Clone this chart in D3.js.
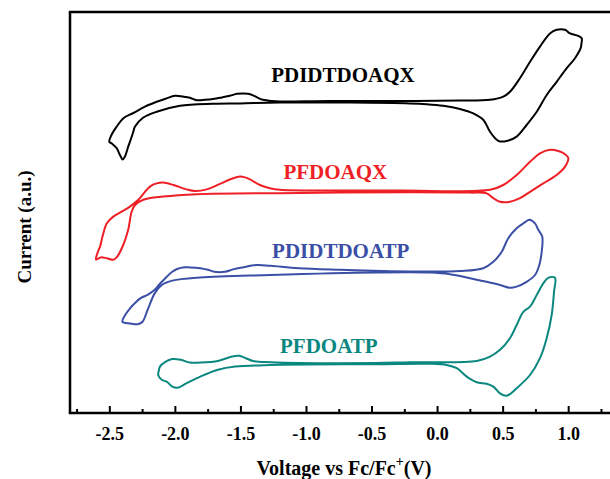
<!DOCTYPE html>
<html>
<head>
<meta charset="utf-8">
<script src="https://cdn.jsdelivr.net/npm/d3@7"></script>
<style>
  html, body { margin: 0; padding: 0; background: #fff; }
  svg { display: block; font-family: "Liberation Serif", "Times New Roman", serif; font-weight: bold; }
</style>
</head>
<body>
<svg id="chart" width="610" height="479"></svg>
<script>
// Cyclic voltammograms, closed loops as [potential (V vs Fc/Fc+), current (a.u., offset per trace)]
const pdidtdoaqx = [[-2.500,67.8],[-2.487,69.3],[-2.444,71.6],[-2.388,73.8],[-2.317,75.0],[-2.228,76.6],[-2.139,77.8],[-2.068,78.6],[-1.999,79.3],[-1.938,79.1],[-1.885,78.8],[-1.834,78.2],[-1.770,78.3],[-1.709,78.5],[-1.641,78.9],[-1.580,79.3],[-1.526,79.8],[-1.481,79.9],[-1.442,79.8],[-1.404,79.4],[-1.366,78.8],[-1.328,78.3],[-1.259,78.0],[-1.198,77.9],[-0.817,78.0],[-0.283,78.0],[0.175,78.1],[0.404,78.3],[0.505,79.1],[0.556,80.3],[0.632,83.7],[0.709,87.8],[0.785,91.6],[0.861,94.9],[0.912,95.8],[0.976,95.8],[1.014,94.9],[1.077,94.3],[1.103,93.7],[1.101,92.3],[1.095,91.2],[1.052,88.7],[0.989,86.2],[0.912,82.8],[0.836,79.5],[0.760,75.3],[0.683,72.0],[0.607,69.1],[0.531,68.0],[0.480,67.9],[0.455,68.3],[0.404,70.3],[0.352,73.3],[0.276,74.9],[0.175,76.0],[0.047,76.8],[-0.079,77.2],[-0.207,77.4],[-0.664,77.6],[-1.198,77.6],[-1.503,77.4],[-1.709,77.3],[-1.961,76.8],[-2.139,75.3],[-2.243,73.8],[-2.304,71.6],[-2.320,70.0],[-2.343,67.8],[-2.356,66.6],[-2.381,64.1],[-2.398,63.4],[-2.419,64.5],[-2.444,66.2],[-2.482,67.4]];

const pfdoaqx = [[-2.602,38.4],[-2.587,40.3],[-2.571,41.6],[-2.549,44.5],[-2.520,47.4],[-2.470,49.1],[-2.404,50.4],[-2.343,51.6],[-2.279,53.3],[-2.215,55.8],[-2.182,56.8],[-2.139,57.4],[-2.089,57.6],[-2.012,57.0],[-1.910,55.9],[-1.847,55.5],[-1.757,55.9],[-1.656,57.3],[-1.555,58.7],[-1.503,59.1],[-1.465,58.9],[-1.427,58.4],[-1.351,57.0],[-1.275,56.2],[-1.198,55.8],[-0.817,55.6],[-0.283,55.6],[0.404,55.8],[0.505,57.0],[0.607,59.5],[0.709,62.8],[0.785,64.9],[0.861,65.8],[0.925,65.5],[0.976,64.7],[1.001,63.7],[0.976,61.6],[0.912,59.5],[0.810,57.4],[0.709,55.3],[0.632,53.7],[0.556,52.8],[0.480,52.8],[0.429,53.7],[0.378,54.9],[0.251,55.1],[-0.207,55.2],[-1.046,55.0],[-1.834,54.7],[-2.089,54.1],[-2.241,53.3],[-2.304,52.0],[-2.330,50.3],[-2.356,45.8],[-2.394,42.0],[-2.444,38.9],[-2.470,38.3],[-2.520,38.7],[-2.566,38.9]];

const pdidtdoatp = [[-2.400,22.8],[-2.373,24.8],[-2.341,26.2],[-2.304,27.5],[-2.261,28.7],[-2.205,29.6],[-2.154,30.8],[-2.114,32.3],[-2.073,33.7],[-2.020,35.3],[-1.984,36.0],[-1.940,36.4],[-1.885,36.4],[-1.806,36.2],[-1.748,35.8],[-1.699,35.3],[-1.619,35.3],[-1.557,35.9],[-1.484,36.4],[-1.378,37.0],[-1.271,36.8],[-1.056,36.2],[-0.735,35.8],[-0.414,35.5],[-0.207,35.4],[0.175,35.5],[0.352,36.2],[0.429,37.8],[0.493,40.3],[0.543,43.7],[0.607,46.2],[0.671,47.7],[0.703,48.3],[0.747,47.4],[0.772,45.8],[0.802,44.1],[0.798,40.3],[0.780,37.0],[0.747,34.5],[0.683,32.8],[0.607,31.6],[0.556,31.3],[0.480,32.0],[0.378,32.8],[0.251,33.7],[0.098,34.7],[-0.054,35.1],[-0.468,35.1],[-1.271,34.5],[-1.806,33.9],[-2.020,33.1],[-2.100,32.0],[-2.154,29.9],[-2.208,25.8],[-2.247,22.8],[-2.282,22.2],[-2.341,22.4]];

const pfdoatp = [[-2.127,9.5],[-2.121,10.8],[-2.114,11.6],[-2.073,12.8],[-2.020,13.5],[-1.954,13.3],[-1.886,12.6],[-1.806,12.6],[-1.672,13.0],[-1.565,14.1],[-1.511,14.3],[-1.458,13.7],[-1.404,13.0],[-1.271,12.7],[-0.468,12.5],[-0.207,12.7],[0.302,13.0],[0.404,14.1],[0.480,15.8],[0.556,18.7],[0.607,22.0],[0.658,25.3],[0.709,26.6],[0.760,29.5],[0.810,32.4],[0.848,33.8],[0.899,33.8],[0.892,30.3],[0.874,24.5],[0.836,18.7],[0.785,13.7],[0.709,9.5],[0.607,6.2],[0.531,4.3],[0.480,4.9],[0.429,6.6],[0.378,7.3],[0.302,7.7],[0.226,9.1],[0.150,11.2],[0.073,12.0],[-0.054,12.3],[-0.468,12.2],[-1.271,12.0],[-1.539,11.6],[-1.672,10.8],[-1.806,9.1],[-1.913,7.4],[-1.980,6.3],[-2.020,6.6],[-2.060,7.8],[-2.100,8.3]];

const seriesNames = ["PDIDTDOAQX", "PFDOAQX", "PDIDTDOATP", "PFDOATP"];
const seriesData = [pdidtdoaqx, pfdoaqx, pdidtdoatp, pfdoatp];
const majorTicks = [-2.5, -2.0, -1.5, -1.0, -0.5, 0.0, 0.5, 1.0];
const minorTicks = [-2.75, -2.25, -1.75, -1.25, -0.75, -0.25, 0.25, 0.75, 1.25];

// styling and layout
const colors = ["#000000", "#ee1f25", "#3b4fa6", "#0a877f"];
const labelAnchor = [[-0.718, 82.7], [-0.776, 58.4], [-0.735, 38.7], [-0.826, 15.1]];

const svg = d3.select("#chart");
const plotLeft = 70, plotTop = 12, plotBottom = 413;

const x = d3.scaleLinear().domain([-2.8, 1.35]).range([plotLeft, plotLeft + 4.15 * 131.1]);
const y = d3.scaleLinear().domain([0, 100.25]).range([plotBottom, plotTop]);

// curves
const line = d3.line()
  .x(d => x(d[0]))
  .y(d => y(d[1]))
  .curve(d3.curveCatmullRomClosed.alpha(0.5));

svg.append("g")
  .selectAll("path")
  .data(seriesData)
  .join("path")
  .attr("d", line)
  .attr("fill", "none")
  .attr("stroke", (d, i) => colors[i])
  .attr("stroke-width", 2)
  .attr("stroke-linejoin", "round");

// series labels
svg.append("g")
  .selectAll("text")
  .data(seriesNames)
  .join("text")
  .attr("x", (d, i) => x(labelAnchor[i][0]))
  .attr("y", (d, i) => y(labelAnchor[i][1]))
  .attr("text-anchor", "middle")
  .attr("font-size", 21)
  .attr("fill", (d, i) => colors[i])
  .text(d => d);

// frame: left and top edges
svg.append("line")
  .attr("x1", plotLeft).attr("x2", plotLeft)
  .attr("y1", plotTop).attr("y2", plotBottom)
  .attr("stroke", "#000").attr("stroke-width", 2.5);
svg.append("line")
  .attr("x1", plotLeft - 1.25).attr("x2", 612)
  .attr("y1", plotTop).attr("y2", plotTop)
  .attr("stroke", "#000").attr("stroke-width", 2.5);

// bottom axis with inward ticks
const xAxis = d3.axisBottom(x)
  .tickValues(majorTicks)
  .tickSize(-7)
  .tickSizeOuter(0)
  .tickPadding(14)
  .tickFormat(d => d.toFixed(1));

const gx = svg.append("g")
  .attr("transform", `translate(0,${plotBottom})`)
  .call(xAxis);
gx.select(".domain").attr("stroke-width", 2.5).attr("d", `M${plotLeft - 1.25},0H614`);
gx.selectAll(".tick line").attr("stroke-width", 2);
gx.selectAll(".tick text")
  .attr("font-family", "Liberation Serif, serif")
  .attr("font-weight", "bold")
  .attr("font-size", 18)
  .attr("fill", "#000");

const gxMinor = svg.append("g")
  .attr("transform", `translate(0,${plotBottom})`)
  .call(d3.axisBottom(x).tickValues(minorTicks).tickSize(-4).tickSizeOuter(0).tickFormat(""));
gxMinor.select(".domain").remove();
gxMinor.selectAll(".tick line").attr("stroke-width", 2);

// axis titles
const xt = svg.append("text")
  .attr("x", 344)
  .attr("y", 475)
  .attr("text-anchor", "middle")
  .attr("font-size", 20)
  .attr("fill", "#000");
xt.append("tspan").text("Voltage vs Fc/Fc");
xt.append("tspan").attr("dy", -9).attr("font-size", 14).text("+");
xt.append("tspan").attr("dy", 9).text("(V)");

svg.append("text")
  .attr("transform", "translate(31,227) rotate(-90)")
  .attr("text-anchor", "middle")
  .attr("font-size", 19)
  .attr("fill", "#000")
  .text("Current (a.u.)");
</script>
</body>
</html>
